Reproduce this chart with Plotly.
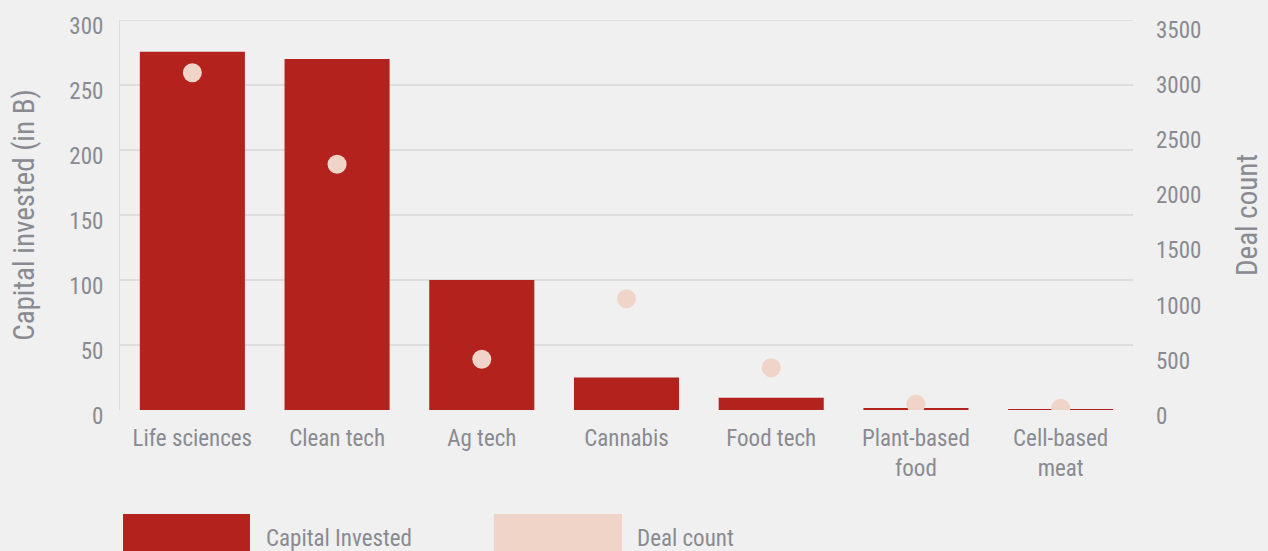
import plotly.graph_objects as go

# Investment by sector
categories = ["Life sciences", "Clean tech", "Ag tech", "Cannabis", "Food tech",
              "Plant-based<br>food", "Cell-based<br>meat"]
capital_invested = [275.5, 270, 100, 25, 9.5, 0.8, 0.5]   # in billions
deal_count = [3054, 2225, 459, 1008, 383, 52, 15]

BG = "#eff0ef"
RED = "#b3221c"
PINK = "#f0d4c8"
GRID = "#dcdddc"
TXT = "#8a8a92"
FONT = "Liberation Sans Narrow, Roboto Condensed, Roboto, sans-serif"

fig = go.Figure()
fig.add_trace(go.Bar(
    x=categories, y=capital_invested, name="Capital Invested",
    marker=dict(color=RED, line=dict(width=0)), yaxis="y",
))
fig.add_trace(go.Scatter(
    x=categories, y=deal_count, name="Deal count", mode="markers",
    marker=dict(color=PINK, size=19, line=dict(width=0)), yaxis="y2",
))

fig.update_layout(
    width=1268, height=551,
    margin=dict(l=120, r=135, t=20, b=141),
    paper_bgcolor=BG, plot_bgcolor=BG,
    showlegend=False,
    bargap=0.274,
    font=dict(family=FONT, color=TXT, size=22),
    xaxis=dict(showgrid=False, showline=False, ticks="", tickfont=dict(size=23, color=TXT),
               ticklabelstandoff=12, automargin=False),
    yaxis=dict(range=[0, 300], dtick=50, showgrid=True, gridcolor=GRID, gridwidth=1.5,
               zeroline=False, showline=True, linecolor=GRID, linewidth=1,
               tickfont=dict(size=23, color=TXT), ticklabelstandoff=11, ticklabelshift=6,
               automargin=False,
               title=dict(text="Capital invested (in B)", font=dict(size=29, color=TXT), standoff=26)),
    yaxis2=dict(range=[0, 3532], tickvals=[0, 500, 1000, 1500, 2000, 2500, 3000, 3500],
                overlaying="y", side="right", showgrid=False,
                zeroline=False, showline=False, tickfont=dict(size=23, color=TXT),
                ticklabelstandoff=22, ticklabelshift=6, automargin=False,
                title=dict(text="Deal count", font=dict(size=29, color=TXT), standoff=36)),
)

# Top gridline at the end of the value range
fig.add_shape(type="line", xref="paper", yref="y", x0=0, x1=1, y0=300, y1=300,
              line=dict(color=GRID, width=1.5), layer="below")

# Legend swatches and labels below the plot
legend_items = [("Capital Invested", RED, 0.003, 0.1283, 0.142),
                ("Deal count", PINK, 0.369, 0.4956, 0.508)]
for label, color, x0, x1, xt in legend_items:
    fig.add_shape(type="rect", xref="paper", yref="paper", x0=x0, x1=x1, y0=-0.40, y1=-0.2667,
                  fillcolor=color, line=dict(width=0))
    fig.add_annotation(text=label, xref="paper", yref="paper", x=xt, y=-0.3297,
                       xanchor="left", yanchor="middle", showarrow=False,
                       font=dict(size=23, color=TXT))

fig.write_html("out.html")
